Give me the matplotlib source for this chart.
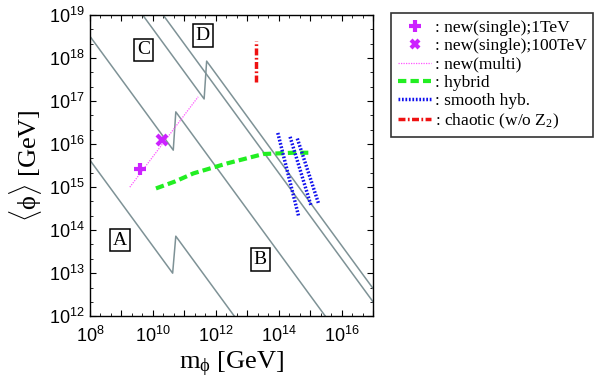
import numpy as np
import matplotlib
matplotlib.use("Agg")
import matplotlib.pyplot as plt
from matplotlib.ticker import FixedLocator, FuncFormatter
from matplotlib.lines import Line2D

plt.rcParams['font.family'] = ['Liberation Sans', 'DejaVu Sans']
plt.rcParams['mathtext.fontset'] = 'custom'
plt.rcParams['mathtext.rm'] = 'Liberation Serif'
plt.rcParams['mathtext.it'] = 'Liberation Serif:italic'
plt.rcParams['mathtext.bf'] = 'Liberation Serif:bold'

# constraint lines, log10 values (m, <phi>)
line_a_x = [8.0, 10.63, 10.73, 12.59]
line_a_y = [15.63, 13.0, 13.86, 12.0]
line_c_x = [8.0, 10.65, 10.73, 15.48]
line_c_y = [18.51, 15.86, 16.75, 12.0]
line_d1_x = [9.68, 11.63, 11.71, 17.0]
line_d1_y = [19.0, 17.05, 17.93, 12.64]
line_d2_x = [10.33, 17.0]
line_d2_y = [19.0, 12.33]

# models
single_1tev = (9.59, 15.43)
single_100tev = (10.30, 16.09)
multi_x = [9.27, 11.44]
multi_y = [15.0, 17.10]
hybrid_x = [10.10, 10.7, 11.29, 12.35, 13.51, 14.47, 14.94]
hybrid_y = [14.97, 15.13, 15.32, 15.55, 15.77, 15.80, 15.80]
smooth_x = [[13.97, 14.63], [14.36, 15.03], [14.59, 15.26]]
smooth_y = [[16.26, 14.33], [16.17, 14.56], [16.13, 14.63]]
chaotic_x = [13.28, 13.28]
chaotic_y = [17.45, 18.4]

region_labels = ["A", "B", "C", "D"]
region_x = [8.95, 13.41, 9.70, 11.58]
region_y = [13.77, 13.32, 18.19, 18.53]

grey = "#7e9296"
magenta = "#cc22ff"
pink = "#ff55ff"
green = "#22ee22"
blue = "#1111ee"
red = "#ee1111"


def p(v):
    return 10 ** np.asarray(v, dtype=float)


fig = plt.figure(figsize=(5.99, 3.87), dpi=100)
ax = fig.add_axes([0.150, 0.183, 0.473, 0.778])
ax.set_xscale("log")
ax.set_yscale("log")

for xs, ys in [(line_a_x, line_a_y), (line_c_x, line_c_y),
               (line_d1_x, line_d1_y), (line_d2_x, line_d2_y)]:
    ax.plot(p(xs), p(ys), color=grey, lw=1.1, zorder=2)

ax.plot(p(multi_x), p(multi_y), color=pink, lw=0.9, ls=(0, (1, 1)), zorder=3)
ax.plot(p(hybrid_x), p(hybrid_y), color=green, lw=3, ls=(0, (2, 1)), zorder=3)
for xs, ys in zip(smooth_x, smooth_y):
    ax.plot(p(xs), p(ys), color=blue, lw=2.5, ls=(0, (0.5, 0.5)), zorder=3)
ax.plot(p(chaotic_x), p(chaotic_y), color=red, lw=2.5, ls=(0, (2, 0.7, 0.5, 0.7)), zorder=3)
ax.plot(p(single_1tev[0]), p(single_1tev[1]), marker="+", ms=9, mew=3,
        color=magenta, ls="none", zorder=4)
ax.plot(p(single_100tev[0]), p(single_100tev[1]), marker="x", ms=7, mew=3,
        color=magenta, ls="none", zorder=4)

for lab, lx, ly in zip(region_labels, region_x, region_y):
    ax.text(p(lx), p(ly), lab, family="Liberation Serif", fontsize=14,
            ha="center", va="center",
            bbox=dict(boxstyle="square,pad=0.15", fc="white", ec="black", lw=1.1))

ax.set_xlim(1e8, 1e17)
ax.set_ylim(1e12, 1e19)

ax.xaxis.set_major_locator(FixedLocator(p(np.arange(8, 18))))
ax.xaxis.set_minor_locator(FixedLocator(p(np.arange(8, 17, 1 / 3))))
ax.xaxis.set_major_formatter(FuncFormatter(
    lambda v, pos: r"$\mathdefault{10^{%d}}$" % round(np.log10(v))
    if round(np.log10(v)) % 2 == 0 else ""))
ax.yaxis.set_major_locator(FixedLocator(p(np.arange(12, 20))))
ax.yaxis.set_minor_locator(FixedLocator(p(np.arange(12, 19, 1 / 3))))
ax.yaxis.set_major_formatter(FuncFormatter(
    lambda v, pos: r"$\mathdefault{10^{%d}}$" % round(np.log10(v))))
ax.xaxis.set_minor_formatter(FuncFormatter(lambda v, pos: ""))
ax.yaxis.set_minor_formatter(FuncFormatter(lambda v, pos: ""))

ax.tick_params(which="both", direction="in", top=True, right=True, labelsize=13)
ax.tick_params(which="major", length=4, width=0.8)
ax.tick_params(which="minor", length=2, width=0.6)
ax.tick_params(axis="x", pad=7)
for s in ax.spines.values():
    s.set_linewidth(1.0)

ax.set_xlabel(r"m$_{\mathrm{\phi}}$ [GeV]", family="Liberation Serif", fontsize=19, labelpad=3)
ax.set_ylabel(r"$\langle\mathrm{\phi}\rangle$ [GeV]", family="Liberation Serif", fontsize=19, labelpad=4)

handles = [
    Line2D([], [], color=magenta, marker="+", ms=8, mew=3, ls="none"),
    Line2D([], [], color=magenta, marker="x", ms=6, mew=3, ls="none"),
    Line2D([], [], color=pink, lw=0.9, ls=(0, (1, 1))),
    Line2D([], [], color=green, lw=3, ls=(0, (2, 1))),
    Line2D([], [], color=blue, lw=2.5, ls=(0, (0.5, 0.5))),
    Line2D([], [], color=red, lw=2.5, ls=(0, (2, 0.7, 0.5, 0.7))),
]
labels = [": new(single);1TeV", ": new(single);100TeV", ": new(multi)",
          ": hybrid", ": smooth hyb.", r": chaotic (w/o Z$_2$)"]
leg = fig.legend(handles, labels, loc="upper left", bbox_to_anchor=(0.653, 0.966),
                 prop={"family": "Liberation Serif", "size": 12.5},
                 frameon=True, fancybox=False, edgecolor="black",
                 handlelength=1.9, handletextpad=0.2, labelspacing=0.12,
                 borderpad=0.4, borderaxespad=0)
leg.get_frame().set_linewidth(1.2)

fig.savefig("out.png", dpi=100)
